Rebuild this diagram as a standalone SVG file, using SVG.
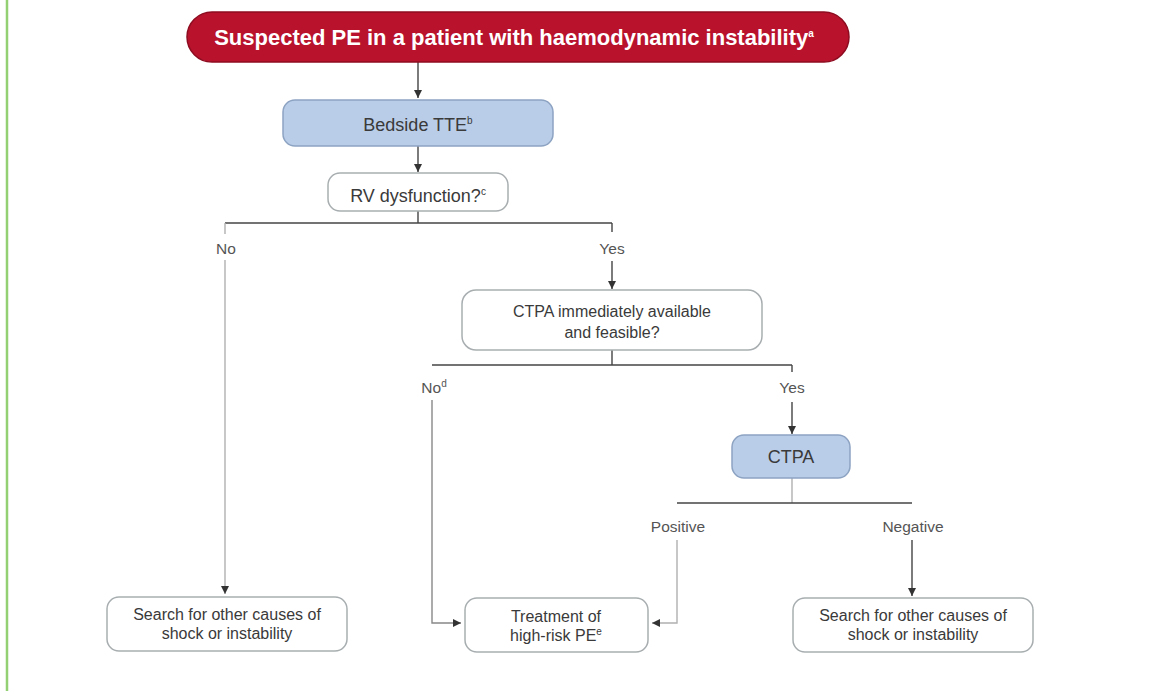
<svg xmlns="http://www.w3.org/2000/svg" width="1176" height="691" viewBox="0 0 1176 691">
<defs>
<marker id="ah" viewBox="0 0 10 10" refX="10" refY="5" markerWidth="8" markerHeight="8" markerUnits="userSpaceOnUse" orient="auto">
<path d="M0,0 L10,5 L0,10 z" fill="#333"/>
</marker>
</defs>
<style>
text{font-family:"Liberation Sans",Arial,sans-serif;text-anchor:middle;}
.t{font-size:16px;fill:#3a3a3a;}
.tb{font-size:18px;fill:#3a3a3a;}
.lbl{font-size:15.5px;fill:#555;}
.title{font-size:22px;font-weight:bold;fill:#fff;}
.sup{font-size:10px;}
.red{fill:#b8122d;stroke:#8e0c20;stroke-width:1.5;}
.blue{fill:#b9cde8;stroke:#8da3c2;stroke-width:1.5;}
.white{fill:#fff;stroke:#a8aeb0;stroke-width:1.5;}
.ln{stroke:#444;stroke-width:1.4;fill:none;}
.lt{stroke:#b0b0b0;stroke-width:1.4;fill:none;}
.md{stroke:#888;stroke-width:1.4;fill:none;}
</style>
<rect width="1176" height="691" fill="#fff"/>
<line x1="7" y1="0" x2="7" y2="691" stroke="#93cf73" stroke-width="2.5"/>

<g id="connectors">
<line class="ln" x1="418" y1="62" x2="418" y2="98" marker-end="url(#ah)"/>
<line class="ln" x1="418" y1="146" x2="418" y2="172" marker-end="url(#ah)"/>
<line class="ln" x1="418" y1="211" x2="418" y2="223"/>
<line class="ln" x1="225" y1="223" x2="612" y2="223"/>
<line class="ln" x1="612" y1="223" x2="612" y2="232"/>
<line class="lt" x1="225" y1="223" x2="225" y2="234"/>
<line class="lt" x1="225" y1="260" x2="225" y2="594" marker-end="url(#ah)"/>
<line class="ln" x1="612" y1="261" x2="612" y2="289" marker-end="url(#ah)"/>
<line class="ln" x1="612" y1="350" x2="612" y2="365"/>
<line class="ln" x1="432" y1="365" x2="792" y2="365"/>
<line class="ln" x1="792" y1="365" x2="792" y2="372"/>
<path class="md" d="M432,400 L432,623 L461,623" marker-end="url(#ah)"/>
<line class="ln" x1="792" y1="402" x2="792" y2="434" marker-end="url(#ah)"/>
<line class="lt" x1="792" y1="478" x2="792" y2="503"/>
<line class="ln" x1="677" y1="503" x2="912" y2="503"/>
<path class="lt" d="M677,540 L677,623 L652,623" marker-end="url(#ah)"/>
<line class="ln" x1="912" y1="540" x2="912" y2="596" marker-end="url(#ah)"/>
</g>

<g id="n-start">
<rect class="red" x="187" y="12" width="662" height="50" rx="25"/>
<text class="title" x="514" y="45">Suspected PE in a patient with haemodynamic instability<tspan class="sup" dy="-8">a</tspan></text>
</g>
<g id="n-tte">
<rect class="blue" x="283" y="100" width="270" height="46" rx="12"/>
<text class="tb" x="418" y="131">Bedside TTE<tspan class="sup" dy="-7">b</tspan></text>
</g>
<g id="n-rv">
<rect class="white" x="328" y="173" width="180" height="38" rx="12"/>
<text class="tb" x="418" y="202">RV dysfunction?<tspan class="sup" dy="-7">c</tspan></text>
</g>
<g id="lbl-no1"><text class="lbl" x="226" y="254">No</text></g>
<g id="lbl-yes1"><text class="lbl" x="612" y="254">Yes</text></g>
<g id="n-ctpa-avail">
<rect class="white" x="462" y="290" width="300" height="60" rx="14"/>
<text class="t" x="612" y="317">CTPA immediately available</text>
<text class="t" x="612" y="338">and feasible?</text>
</g>
<g id="lbl-no2"><text class="lbl" x="434" y="393">No<tspan class="sup" dy="-6">d</tspan></text></g>
<g id="lbl-yes2"><text class="lbl" x="792" y="393">Yes</text></g>
<g id="n-ctpa">
<rect class="blue" x="732" y="435" width="118" height="43" rx="12"/>
<text class="tb" x="791" y="463">CTPA</text>
</g>
<g id="lbl-pos"><text class="lbl" x="678" y="532">Positive</text></g>
<g id="lbl-neg"><text class="lbl" x="913" y="532">Negative</text></g>
<g id="n-search-left">
<rect class="white" x="107" y="597" width="240" height="54" rx="12"/>
<text class="t" x="227" y="620">Search for other causes of</text>
<text class="t" x="227" y="639">shock or instability</text>
</g>
<g id="n-treat">
<rect class="white" x="465" y="598" width="183" height="54" rx="12"/>
<text class="t" x="556" y="622">Treatment of</text>
<text class="t" x="556" y="641">high-risk PE<tspan class="sup" dy="-6">e</tspan></text>
</g>
<g id="n-search-right">
<rect class="white" x="793" y="598" width="240" height="54" rx="12"/>
<text class="t" x="913" y="621">Search for other causes of</text>
<text class="t" x="913" y="640">shock or instability</text>
</g>
</svg>
